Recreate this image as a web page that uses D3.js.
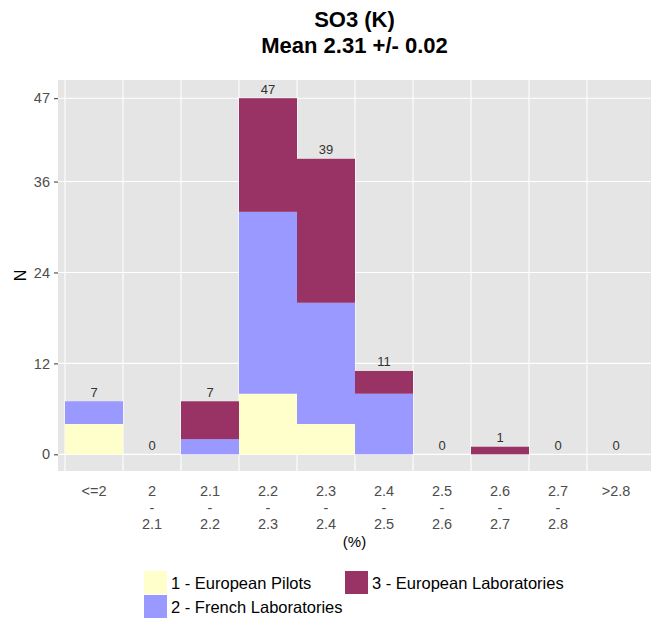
<!DOCTYPE html>
<html>
<head>
<meta charset="utf-8">
<script src="https://cdn.jsdelivr.net/npm/d3@7"></script>
<style>
  body { margin: 0; background: #fff; }
  svg { font-family: "Liberation Sans", Arial, sans-serif; }
</style>
</head>
<body>
<svg id="chart" width="656" height="621"></svg>
<script>
// categories (x tick labels, one per bin)
const bins = ["<=2", "2-2.1", "2.1-2.2", "2.2-2.3", "2.3-2.4", "2.4-2.5", "2.5-2.6", "2.6-2.7", "2.7-2.8", ">2.8"];
const binLabels = [["<=2"], ["2", "-", "2.1"], ["2.1", "-", "2.2"], ["2.2", "-", "2.3"], ["2.3", "-", "2.4"],
  ["2.4", "-", "2.5"], ["2.5", "-", "2.6"], ["2.6", "-", "2.7"], ["2.7", "-", "2.8"], [">2.8"]];

// series values
const europeanPilots = [4, 0, 0, 8, 4, 0, 0, 0, 0, 0];
const frenchLabs = [3, 0, 2, 24, 16, 8, 0, 0, 0, 0];
const europeanLabs = [0, 0, 5, 15, 19, 3, 0, 1, 0, 0];

const seriesNames = ["1 - European Pilots", "2 - French Laboratories", "3 - European Laboratories"];
const seriesColors = ["#FFFFCC", "#9999FF", "#993366"];
const yTicks = [0, 12, 24, 36, 47];

const svg = d3.select("#chart"),
  panel = {left: 58, right: 651, top: 80, bottom: 471},
  gridColor = "#FFFFFF",
  panelColor = "#E5E5E5",
  tickColor = "#4D4D4D";

const rows = bins.map(function (b, i) {
  return {bin: b, s0: europeanPilots[i], s1: frenchLabs[i], s2: europeanLabs[i]};
});
const totals = rows.map(function (r) { return r.s0 + r.s1 + r.s2; });

const x = d3.scaleBand().domain(bins).range([panel.left + 7, panel.right - 6]).padding(0);
const y = d3.scaleLinear().domain([-2.2, 49.4]).range([panel.bottom, panel.top]);

const stack = d3.stack().keys(["s0", "s1", "s2"]);
const layers = stack(rows);

// panel background
svg.append("rect")
  .attr("x", panel.left)
  .attr("y", panel.top)
  .attr("width", panel.right - panel.left)
  .attr("height", panel.bottom - panel.top)
  .attr("fill", panelColor);

// grid lines
svg.append("g").selectAll("line.hgrid")
  .data(yTicks)
  .enter().append("line")
  .attr("x1", panel.left).attr("x2", panel.right)
  .attr("y1", function (d) { return y(d); })
  .attr("y2", function (d) { return y(d); })
  .attr("stroke", gridColor)
  .attr("stroke-width", 1.1);

svg.append("g").selectAll("line.vgrid")
  .data(bins)
  .enter().append("line")
  .attr("x1", function (d) { return x(d); })
  .attr("x2", function (d) { return x(d); })
  .attr("y1", panel.top).attr("y2", panel.bottom)
  .attr("stroke", gridColor)
  .attr("stroke-width", 1.1);

// stacked bars
svg.append("g").selectAll("g")
  .data(layers)
  .enter().append("g")
  .attr("fill", function (d, i) { return seriesColors[i]; })
  .selectAll("rect")
  .data(function (d) { return d; })
  .enter().append("rect")
  .attr("x", function (d) { return x(d.data.bin); })
  .attr("width", x.bandwidth())
  .attr("y", function (d) { return y(d[1]); })
  .attr("height", function (d) { return y(d[0]) - y(d[1]); });

// totals above bars
svg.append("g").selectAll("text")
  .data(bins)
  .enter().append("text")
  .attr("x", function (d) { return x(d) + x.bandwidth() / 2; })
  .attr("y", function (d, i) { return y(totals[i]) - 4.5; })
  .attr("text-anchor", "middle")
  .attr("font-size", "13px")
  .attr("fill", "#333")
  .text(function (d, i) { return totals[i]; });

// y axis
const yAxis = svg.append("g")
  .attr("transform", "translate(" + panel.left + ",0)")
  .call(d3.axisLeft(y).tickValues(yTicks).tickSize(4).tickPadding(4));
yAxis.select(".domain").remove();
yAxis.selectAll(".tick line").attr("stroke", "#333");
yAxis.selectAll(".tick text")
  .attr("font-size", "14.5px")
  .attr("font-family", "Liberation Sans, Arial, sans-serif")
  .attr("fill", tickColor);

// x axis labels, multi-line
const xLab = svg.append("g").selectAll("text")
  .data(bins)
  .enter().append("text")
  .attr("x", function (d) { return x(d) + x.bandwidth() / 2; })
  .attr("y", 496)
  .attr("text-anchor", "middle")
  .attr("font-size", "14.5px")
  .attr("fill", tickColor);
xLab.each(function (d, i) {
  const t = d3.select(this);
  binLabels[i].forEach(function (line, j) {
    t.append("tspan")
      .attr("x", x(d) + x.bandwidth() / 2)
      .attr("dy", j === 0 ? 0 : 16.5)
      .text(line);
  });
});

// axis titles
svg.append("text")
  .attr("x", (panel.left + panel.right) / 2)
  .attr("y", 547)
  .attr("text-anchor", "middle")
  .attr("font-size", "15px")
  .attr("fill", "#000")
  .text("(%)");

svg.append("text")
  .attr("transform", "translate(26," + ((panel.top + panel.bottom) / 2) + ") rotate(-90)")
  .attr("text-anchor", "middle")
  .attr("font-size", "16px")
  .attr("fill", "#000")
  .text("N");

// title
const title = svg.append("text")
  .attr("x", (panel.left + panel.right) / 2)
  .attr("y", 27)
  .attr("text-anchor", "middle")
  .attr("font-size", "22px")
  .attr("font-weight", "bold")
  .attr("fill", "#000");
title.append("tspan").attr("x", (panel.left + panel.right) / 2).text("SO3 (K)");
title.append("tspan").attr("x", (panel.left + panel.right) / 2).attr("dy", 26).text("Mean 2.31 +/- 0.02");

// legend
const legendPos = [[144, 571], [144, 595], [345, 571]];
const legend = svg.append("g").selectAll("g")
  .data(seriesNames)
  .enter().append("g")
  .attr("transform", function (d, i) { return "translate(" + legendPos[i][0] + "," + legendPos[i][1] + ")"; });
legend.append("rect")
  .attr("width", 23)
  .attr("height", 23)
  .attr("fill", function (d, i) { return seriesColors[i]; });
legend.append("text")
  .attr("x", 27)
  .attr("y", 18)
  .attr("font-size", "16.5px")
  .attr("fill", "#000")
  .text(function (d) { return d; });
</script>
</body>
</html>
